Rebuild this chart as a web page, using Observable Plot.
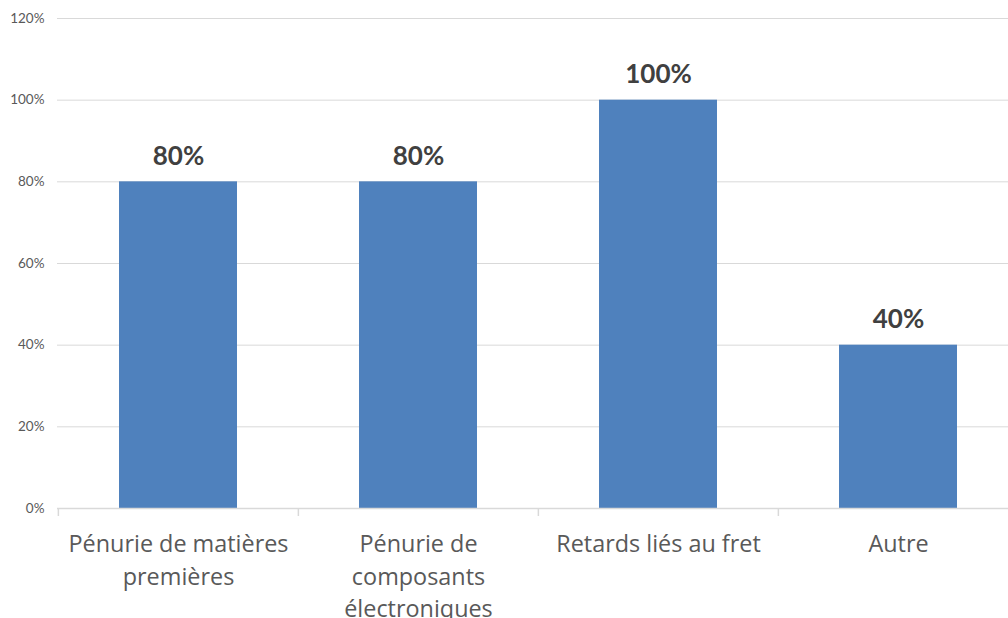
<!DOCTYPE html>
<html>
<head>
<meta charset="utf-8">
<script src="https://cdn.jsdelivr.net/npm/d3@7"></script>
<script src="https://cdn.jsdelivr.net/npm/@observablehq/plot@0.6"></script>
<style>
  html, body { margin: 0; padding: 0; background: #fff; overflow: hidden; }
  #chart { width: 1008px; height: 618px; overflow: hidden; }
  #chart svg { max-width: none !important; width: 1018px; height: 618px; display: block; }
</style>
</head>
<body>
<div id="chart"></div>
<script>
const categories = ["Pénurie de matières premières", "Pénurie de composants électroniques", "Retards liés au fret", "Autre"];
const categoryLabels = ["Pénurie de matières\npremières", "Pénurie de\ncomposants\nélectroniques", "Retards liés au fret", "Autre"];
const values = [0.80, 0.80, 1.00, 0.40];
const yTicks = [0, 0.2, 0.4, 0.6, 0.8, 1.0, 1.2];

const data = categories.map((c, i) => ({category: c, value: values[i]}));
const labelOf = new Map(categories.map((c, i) => [c, categoryLabels[i]]));

const W = 1018, ML = 57;
const step = (W - ML) / categories.length;

const chart = Plot.plot({
  width: W,
  height: 618,
  marginLeft: ML,
  marginRight: 0,
  marginTop: 18,
  marginBottom: 110,
  style: {fontFamily: "Lato, 'Open Sans', sans-serif", background: "#fff"},
  x: {domain: categories, paddingInner: 0.51, paddingOuter: 0.255, label: null},
  y: {domain: [0, 1.2], label: null},
  marks: [
    Plot.gridY(yTicks, {stroke: "#d9d9d9", strokeOpacity: 1, strokeWidth: 1}),
    Plot.axisY(yTicks, {tickFormat: d => Math.round(d * 100) + "%", tickSize: 0, tickPadding: 13, fontSize: 13.5, fill: "#595959", label: null}),
    Plot.barY(data, {x: "category", y: "value", fill: "#4f81bd"}),
    Plot.ruleY([0], {stroke: "#d9d9d9", strokeWidth: 1.5}),
    Plot.ruleX(categories, {x: d => d, dx: -step / 2, y1: 0, y2: 0, insetBottom: -8, stroke: "#d9d9d9", strokeWidth: 1.5}),
    Plot.axisX({tickFormat: d => labelOf.get(d), tickSize: 0, tickPadding: 20, fontSize: 23.4, fontFamily: "'Open Sans', sans-serif", fill: "#595959", lineHeight: 1.4, label: null}),
    Plot.text(data, {x: "category", y: "value", text: d => Math.round(d.value * 100) + "%", dy: -25, fontSize: 26, fontWeight: "bold", fill: "#404040"})
  ]
});
document.getElementById("chart").appendChild(chart);
</script>
</body>
</html>
